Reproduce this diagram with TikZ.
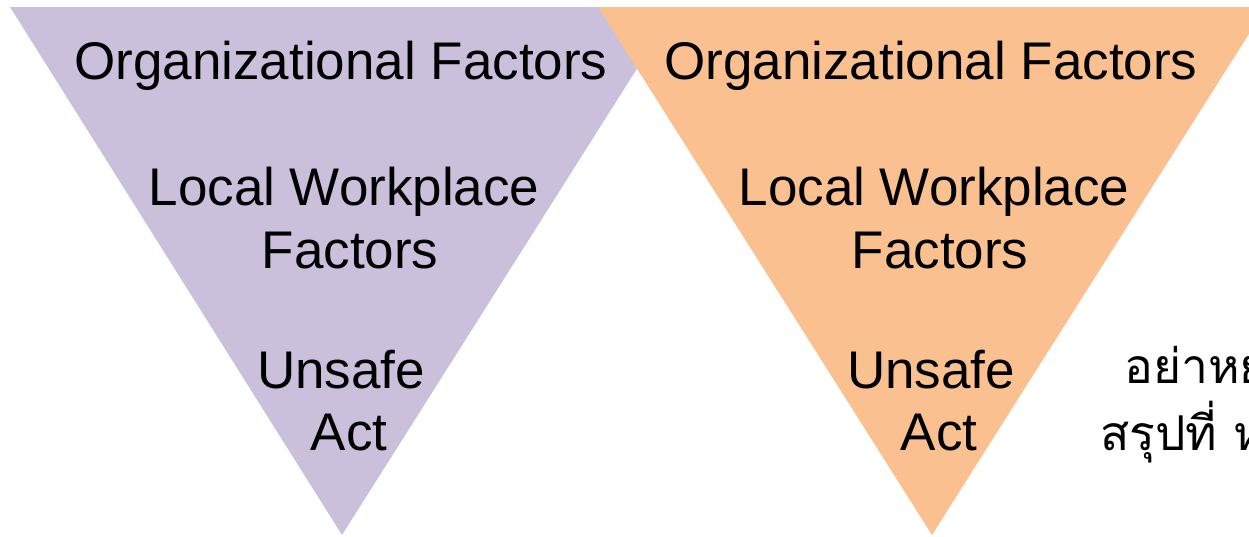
\documentclass[tikz,border=0pt]{standalone}
\usepackage{fontspec}
\setmainfont{Liberation Sans}
\newfontfamily\thaifont[Script=Thai]{Loma}
\definecolor{lav}{RGB}{203,192,220}
\definecolor{peach}{RGB}{250,192,144}
\begin{document}
\begin{tikzpicture}[x=0.75pt,y=-0.75pt,
  lbl/.style={anchor=base,inner sep=0pt,font=\fontsize{39.75}{47}\selectfont},
  thai/.style={anchor=base west,inner sep=0pt,font=\thaifont\fontsize{36}{44}\selectfont}]
\useasboundingbox (0,0) rectangle (1249,536);
\begin{scope}
\clip (0,0) rectangle (1249,536);
\fill[lav] (10,7) -- (676,7) -- (342,535) -- cycle;
\fill[peach] (598,7) -- (1266,7) -- (932,535) -- cycle;
\node[lbl] (o1) at (341,79) {Organizational Factors};
\node[lbl] (w1a) at (344,205) {Local Workplace};
\node[lbl] (w1b) at (350,268) {Factors};
\node[lbl] (u1a) at (341,388) {Unsafe};
\node[lbl] (u1b) at (349,450) {Act};
\node[lbl] (o2) at (931,79) {Organizational Factors};
\node[lbl] (w2a) at (934,205) {Local Workplace};
\node[lbl] (w2b) at (940,268) {Factors};
\node[lbl] (u2a) at (931,388) {Unsafe};
\node[lbl] (u2b) at (939,450) {Act};
\node[thai] (t1) at (1124,383) {อย่าหยุด};
\node[thai] (t2) at (1100,450) {สรุปที่ หน้างาน};
\end{scope}
\end{tikzpicture}
\end{document}
